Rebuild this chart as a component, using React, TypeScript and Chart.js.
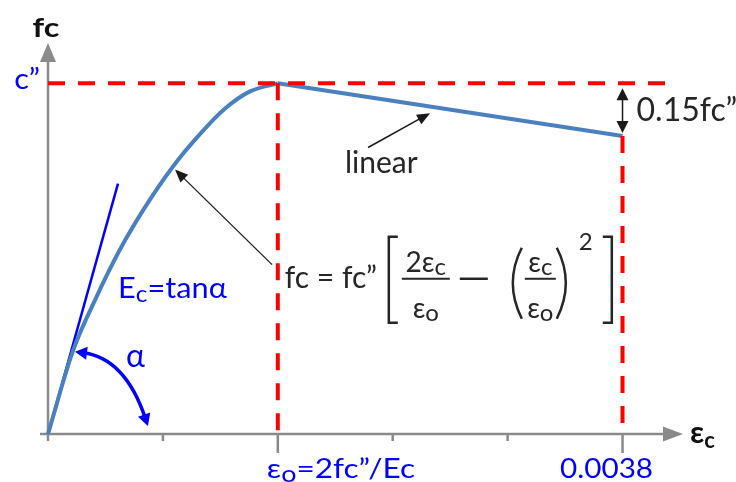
import { useEffect, useRef } from "react";
import { Chart, registerables } from "chart.js";

Chart.register(...registerables);

const FONT = "Lato, 'Noto Sans', 'DejaVu Sans', sans-serif";
const RED = "#ff0000";
const CURVE = "#4a80bf";
const BLUE = "#0000ff";
const AXIS = "#8a8a8a";
const INK = "#262626";

// Stress is expressed as a fraction of fc''
const peakStress = 1.0;
const ultimateStress = 0.85; // fc'' - 0.15fc''
const peakStrain = 0.00152; // εo
const ultimateStrain = 0.0038;
const strainAxisMax = 0.0042;
const stressAxisMax = 1.115;
const dashedLimitStrain = 0.0041;

// Rising (parabolic) branch
const parabolaStrain = [0, 0.000165, 0.000311, 0.000476, 0.000642, 0.000827, 0.001005, 0.001171, 0.001336, 0.00152];
const parabolaStress = [0, 0.237, 0.382, 0.526, 0.647, 0.763, 0.855, 0.928, 0.977, 1.0];

// Falling (linear) branch
const linearStrain = [peakStrain, ultimateStrain];
const linearStress = [peakStress, ultimateStress];

// Initial tangent (Ec)
const tangentStrain = [0, 0.000463];
const tangentStress = [0, 0.714];

const strainTicks = [0, 0.00076, 0.00152, 0.00228, 0.00304, 0.0038];
const strainTickLabels = ["", "", "ε_o=2fc”/Ec", "", "", "0.0038"];

type RichOpts = {
  size: number;
  color: string;
  bold?: boolean;
  align?: "left" | "center" | "right";
  sx?: number;
  subScale?: number;
  subDrop?: number;
  baseline?: CanvasTextBaseline;
};

// "_x" marks x as a subscript character
function parseRich(s: string) {
  const out: { t: string; sub: boolean }[] = [];
  for (let i = 0; i < s.length; i++) {
    if (s[i] === "_" && i + 1 < s.length) {
      out.push({ t: s[i + 1], sub: true });
      i++;
    } else if (out.length && !out[out.length - 1].sub) {
      out[out.length - 1].t += s[i];
    } else {
      out.push({ t: s[i], sub: false });
    }
  }
  return out;
}

function drawRich(ctx: CanvasRenderingContext2D, text: string, x: number, y: number, o: RichOpts) {
  const segs = parseRich(text);
  const weight = o.bold ? "bold " : "";
  const fontFor = (sub: boolean) =>
    `${weight}${sub ? Math.round(o.size * (o.subScale ?? 0.8)) : o.size}px ${FONT}`;
  const widths: number[] = [];
  let total = 0;
  for (const s of segs) {
    ctx.font = fontFor(s.sub);
    const w = ctx.measureText(s.t).width;
    widths.push(w);
    total += w;
  }
  const sx = o.sx ?? 1;
  ctx.save();
  ctx.translate(x, y);
  ctx.scale(sx, 1);
  let cx = o.align === "center" ? -total / 2 : o.align === "right" ? -total : 0;
  ctx.fillStyle = o.color;
  ctx.textAlign = "left";
  ctx.textBaseline = o.baseline ?? "alphabetic";
  segs.forEach((s, i) => {
    ctx.font = fontFor(s.sub);
    ctx.fillText(s.t, cx, s.sub ? o.subDrop ?? 4 : 0);
    cx += widths[i];
  });
  ctx.restore();
}

function seg(ctx: CanvasRenderingContext2D, x1: number, y1: number, x2: number, y2: number) {
  ctx.beginPath();
  ctx.moveTo(x1, y1);
  ctx.lineTo(x2, y2);
  ctx.stroke();
}

function head(ctx: CanvasRenderingContext2D, tx: number, ty: number, ang: number, len: number, half: number) {
  const c = Math.cos(ang);
  const s = Math.sin(ang);
  const bx = tx - c * len;
  const by = ty - s * len;
  ctx.beginPath();
  ctx.moveTo(tx, ty);
  ctx.lineTo(bx - s * half, by + c * half);
  ctx.lineTo(bx + s * half, by - c * half);
  ctx.closePath();
  ctx.fill();
}

function arrow(
  ctx: CanvasRenderingContext2D,
  x1: number, y1: number, x2: number, y2: number,
  color: string, width: number, len: number, half: number, both = false
) {
  const a = Math.atan2(y2 - y1, x2 - x1);
  ctx.strokeStyle = color;
  ctx.fillStyle = color;
  ctx.lineWidth = width;
  const sx = both ? x1 + Math.cos(a) * len * 0.8 : x1;
  const sy = both ? y1 + Math.sin(a) * len * 0.8 : y1;
  seg(ctx, sx, sy, x2 - Math.cos(a) * len * 0.8, y2 - Math.sin(a) * len * 0.8);
  head(ctx, x2, y2, a, len, half);
  if (both) head(ctx, x1, y1, a + Math.PI, len, half);
}

const axesPlugin = {
  id: "stressStrainAxes",
  beforeDatasetsDraw(chart: Chart) {
    const ctx = chart.ctx;
    const xs = chart.scales.x;
    const ys = chart.scales.y;
    const { top, right } = chart.chartArea;
    const x0 = xs.getPixelForValue(0);
    const y0 = ys.getPixelForValue(0);
    ctx.save();
    ctx.strokeStyle = AXIS;
    ctx.fillStyle = AXIS;
    ctx.lineWidth = 2.5;
    seg(ctx, x0, y0 + 1, x0, top + 16);
    head(ctx, x0, top, -Math.PI / 2, 19, 8);
    seg(ctx, x0 - 8, y0, right - 16, y0);
    head(ctx, right, y0, 0, 20, 7.5);
    strainTicks.forEach((t, i) => {
      const px = xs.getPixelForValue(t);
      seg(ctx, px, y0, px, y0 + (strainTickLabels[i] ? 19 : 7));
    });
    strainTickLabels.forEach((lab, i) => {
      if (!lab) return;
      const px = xs.getPixelForValue(strainTicks[i]);
      const startsAtTick = strainTicks[i] === peakStrain;
      drawRich(ctx, lab, startsAtTick ? px - 11 : px - 16, y0 + 44, {
        size: 27,
        color: BLUE,
        align: startsAtTick ? "left" : "center",
        sx: startsAtTick ? 1.17 : 1.1,
        subScale: 0.85,
        subDrop: 4,
      });
    });
    ctx.restore();
  },
};

const annotationPlugin = {
  id: "stressStrainNotes",
  afterDatasetsDraw(chart: Chart) {
    const ctx = chart.ctx;
    const X = (v: number) => chart.scales.x.getPixelForValue(v);
    const Y = (v: number) => chart.scales.y.getPixelForValue(v);
    const { top, right } = chart.chartArea;
    ctx.save();

    // axis titles
    drawRich(ctx, "fc", X(0) - 2, top - 6, { size: 27, bold: true, color: "#111", align: "center", sx: 1.2 });
    drawRich(ctx, "ε_c", right + 7, Y(0) + 9, { size: 31, bold: true, color: "#111", subScale: 0.72, subDrop: 5 });
    drawRich(ctx, "c”", X(0) - 8, Y(peakStress) + 6, { size: 28, color: BLUE, align: "right", sx: 1.1 });

    // initial modulus and angle
    drawRich(ctx, "E_c=tanα", X(0.000463), Y(0.389), { size: 29, color: BLUE, subScale: 0.8, subDrop: 4, sx: 1.06 });
    drawRich(ctx, "α", X(0.000516), Y(0.191), { size: 32, color: BLUE });
    const a0 = [X(0.0001786), Y(0.2343)];
    const ac = [X(0.000509), Y(0.217)];
    const a1 = [X(0.000661), Y(0.0229)];
    ctx.strokeStyle = BLUE;
    ctx.fillStyle = BLUE;
    ctx.lineWidth = 3.5;
    const sh = 8;
    const angStart = Math.atan2(a0[1] - ac[1], a0[0] - ac[0]);
    const angEnd = Math.atan2(a1[1] - ac[1], a1[0] - ac[0]);
    ctx.beginPath();
    ctx.moveTo(a0[0] - Math.cos(angStart) * sh, a0[1] - Math.sin(angStart) * sh);
    ctx.quadraticCurveTo(ac[0], ac[1], a1[0] - Math.cos(angEnd) * sh, a1[1] - Math.sin(angEnd) * sh);
    ctx.stroke();
    head(ctx, a0[0], a0[1], angStart, 12, 6.5);
    head(ctx, a1[0], a1[1], angEnd, 12, 6.5);

    // pointer to the parabolic branch
    arrow(ctx, X(0.001482), Y(0.483), X(0.00084), Y(0.754), "#1a1a1a", 1.3, 13, 5.5);

    // linear branch note
    drawRich(ctx, "linear", X(0.001964), Y(0.743), { size: 30, color: INK });
    arrow(ctx, X(0.002117), Y(0.817), X(0.002527), Y(0.915), "#1a1a1a", 1.5, 13, 5.5);

    // 0.15fc'' drop
    const ux = X(ultimateStrain);
    const yTop = Y(peakStress) + 5;
    const yBot = Y(ultimateStress) - 3;
    arrow(ctx, ux, yTop, ux, yBot, "#1a1a1a", 1.5, 12, 6, true);
    drawRich(ctx, "0.15fc”", ux + 14, (yTop + yBot) / 2, { size: 32, color: INK, baseline: "middle" });

    // Hognestad parabola
    const ox = X(peakStrain) + 7;
    const by = Y(0.417);
    drawRich(ctx, "fc = fc”", ox, by, { size: 30, color: INK });
    ctx.strokeStyle = INK;
    ctx.lineWidth = 2.5;
    const bracket = (x: number, dir: number) => {
      ctx.beginPath();
      ctx.moveTo(x + dir * 9, by - 51);
      ctx.lineTo(x, by - 51);
      ctx.lineTo(x, by + 35);
      ctx.lineTo(x + dir * 9, by + 35);
      ctx.stroke();
    };
    bracket(ox + 104, 1);
    bracket(ox + 327, -1);
    const fr = { size: 28, color: INK, align: "center" as const, subScale: 0.85, subDrop: 3 };
    drawRich(ctx, "2ε_c", ox + 141, by - 16, fr);
    drawRich(ctx, "ε_o", ox + 141, by + 30, fr);
    ctx.lineWidth = 2;
    seg(ctx, ox + 117, by - 9, ox + 165, by - 9);
    ctx.lineWidth = 2.5;
    seg(ctx, ox + 175, by - 9, ox + 203, by - 9);
    ctx.lineWidth = 2.5;
    ctx.beginPath();
    ctx.moveTo(ox + 237, by - 40);
    ctx.quadraticCurveTo(ox + 219, by - 5, ox + 237, by + 31);
    ctx.stroke();
    ctx.beginPath();
    ctx.moveTo(ox + 272, by - 40);
    ctx.quadraticCurveTo(ox + 290, by - 5, ox + 272, by + 31);
    ctx.stroke();
    ctx.lineWidth = 2;
    drawRich(ctx, "ε_c", ox + 255.5, by - 16, fr);
    drawRich(ctx, "ε_o", ox + 255.5, by + 30, fr);
    seg(ctx, ox + 240, by - 9, ox + 271, by - 9);
    drawRich(ctx, "2", ox + 294, by - 38, { size: 24, color: INK });

    ctx.restore();
  },
};

const pts = (xs: number[], ys: number[]) => xs.map((x, i) => ({ x, y: ys[i] }));

export default function App() {
  const ref = useRef<HTMLCanvasElement | null>(null);

  useEffect(() => {
    if (!ref.current) return;
    const dashed = { borderColor: RED, borderWidth: 4, borderDash: [17, 13], pointRadius: 0, clip: false as const, tension: 0 };
    const chart = new Chart(ref.current, {
      type: "line",
      data: {
        datasets: [
          { ...dashed, data: pts([peakStrain, peakStrain], [peakStress, 0]) },
          { ...dashed, data: pts([ultimateStrain, ultimateStrain], [ultimateStress, 0]) },
          { ...dashed, data: pts([0, dashedLimitStrain], [peakStress, peakStress]) },
          {
            data: pts(parabolaStrain, parabolaStress),
            borderColor: CURVE,
            borderWidth: 4,
            pointRadius: 0,
            cubicInterpolationMode: "monotone",
            clip: false,
          },
          { data: pts(linearStrain, linearStress), borderColor: CURVE, borderWidth: 4, pointRadius: 0, tension: 0, clip: false },
          { data: pts(tangentStrain, tangentStress), borderColor: BLUE, borderWidth: 2.5, pointRadius: 0, tension: 0, clip: false },
        ],
      },
      options: {
        responsive: false,
        animation: false,
        devicePixelRatio: 1,
        events: [],
        layout: { padding: { left: 48, top: 43, right: 53, bottom: 48 } },
        scales: {
          x: { type: "linear", min: 0, max: strainAxisMax, display: false },
          y: { type: "linear", min: 0, max: stressAxisMax, display: false },
        },
        plugins: { legend: { display: false }, tooltip: { enabled: false } },
      },
      plugins: [axesPlugin, annotationPlugin],
    });
    return () => chart.destroy();
  }, []);

  return (
    <div style={{ position: "fixed", left: 0, top: 0, width: 736, height: 482, background: "#fff" }}>
      <canvas ref={ref} width={736} height={482} style={{ display: "block" }} />
    </div>
  );
}
